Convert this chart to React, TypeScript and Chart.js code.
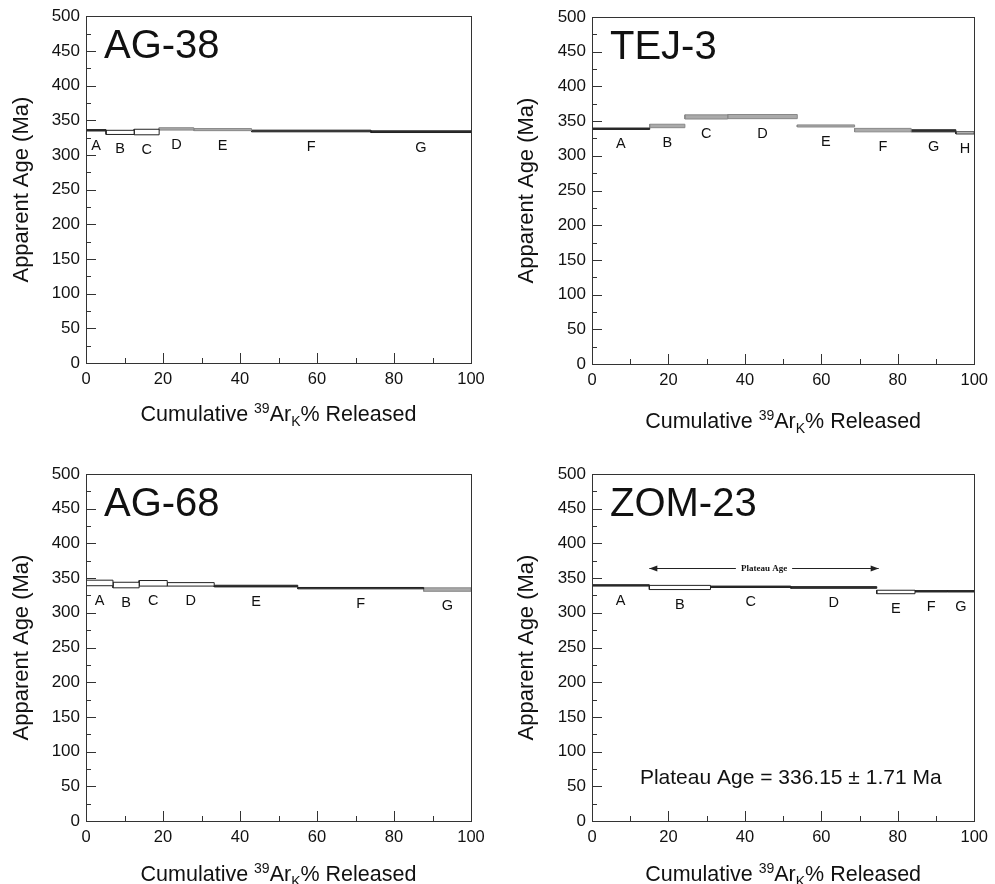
import React, { useEffect, useRef } from "react";
import { Chart, registerables } from "chart.js";

Chart.register(...registerables);

const FONT = '"Liberation Sans", Arial, Helvetica, sans-serif';

// ---------- data ----------
const Y_MIN = 0;
const Y_MAX = 500;
const Y_STEP = 50;
const X_MIN = 0;
const X_MAX = 100;
const X_STEP = 20;

// AG-38
const AG38_BOUNDS = [0, 5.2, 12.5, 19, 28, 43, 74, 100];
const AG38_AGES = [335.5, 332.5, 333, 337.5, 336.5, 334.5, 333.5];
const AG38_ERRS = [1, 3, 4, 1.7, 1.5, 1.2, 1.2];
const AG38_LABELS = ["A", "B", "C", "D", "E", "F", "G"];

// TEJ-3
const TEJ3_BOUNDS = [0, 15.1, 24.3, 35.5, 53.7, 68.7, 83.5, 95.2, 100];
const TEJ3_AGES = [339, 343, 356, 356.5, 343, 337, 336, 333];
const TEJ3_ERRS = [1, 2.5, 3, 3, 1.5, 2.5, 1.5, 1.5];
const TEJ3_LABELS = ["A", "B", "C", "D", "E", "F", "G", "H"];

// AG-68
const AG68_BOUNDS = [0, 7, 13.8, 21.1, 33.3, 55, 87.7, 100];
const AG68_AGES = [343, 340, 342.5, 341, 338.5, 335.5, 333.5];
const AG68_ERRS = [4, 4, 4, 2.5, 1.2, 1, 2.5];
const AG68_LABELS = ["A", "B", "C", "D", "E", "F", "G"];

// ZOM-23
const ZOM23_BOUNDS = [0, 15, 31, 52, 74.5, 84.5, 93, 100];
const ZOM23_AGES = [339.5, 336.5, 337.5, 336.5, 330, 331, 331];
const ZOM23_ERRS = [1, 3, 1, 1.2, 2.5, 1, 1];
const ZOM23_LABELS = ["A", "B", "C", "D", "E", "F", "G"];

const ZOM23_PLATEAU_FROM = 15;
const ZOM23_PLATEAU_TO = 75;
const ZOM23_PLATEAU_Y = 365;
const ZOM23_PLATEAU_TEXT = "Plateau Age = 336.15 \u00b1 1.71 Ma";

// ---------- styles ----------
const STYLE: Record<string, { fill: string; stroke: string }> = {
  dark: { fill: "#333333", stroke: "#222222" },
  gray: { fill: "#aaaaaa", stroke: "#888888" },
  white: { fill: "#ffffff", stroke: "#222222" },
};
const AG38_FILLS = ["dark", "white", "white", "gray", "gray", "dark", "dark"];
const TEJ3_FILLS = ["dark", "gray", "gray", "gray", "gray", "gray", "dark", "white"];
const AG68_FILLS = ["white", "white", "white", "white", "dark", "dark", "gray"];
const ZOM23_FILLS = ["dark", "white", "dark", "dark", "white", "dark", "dark"];

type Panel = {
  title: string;
  bounds: number[];
  ages: number[];
  errs: number[];
  labels: string[];
  fills: string[];
  left: number;
  top: number;
  w: number;
  h: number;
  plot: { l: number; t: number; r: number; b: number };
  yTitleX: number;
  xTitleDy: number;
  plateau?: boolean;
};

const PANELS: Panel[] = [
  {
    title: "AG-38", bounds: AG38_BOUNDS, ages: AG38_AGES, errs: AG38_ERRS, labels: AG38_LABELS, fills: AG38_FILLS,
    left: 0, top: 0, w: 497, h: 440, plot: { l: 86, t: 16, r: 471, b: 363 }, yTitleX: 22, xTitleDy: 50,
  },
  {
    title: "TEJ-3", bounds: TEJ3_BOUNDS, ages: TEJ3_AGES, errs: TEJ3_ERRS, labels: TEJ3_LABELS, fills: TEJ3_FILLS,
    left: 497, top: 0, w: 498, h: 440, plot: { l: 95, t: 17, r: 478, b: 364 }, yTitleX: 30, xTitleDy: 56,
  },
  {
    title: "AG-68", bounds: AG68_BOUNDS, ages: AG68_AGES, errs: AG68_ERRS, labels: AG68_LABELS, fills: AG68_FILLS,
    left: 0, top: 440, w: 497, h: 444, plot: { l: 86, t: 34, r: 471, b: 381 }, yTitleX: 22, xTitleDy: 52,
  },
  {
    title: "ZOM-23", bounds: ZOM23_BOUNDS, ages: ZOM23_AGES, errs: ZOM23_ERRS, labels: ZOM23_LABELS, fills: ZOM23_FILLS,
    left: 497, top: 440, w: 498, h: 444, plot: { l: 95, t: 34, r: 478, b: 381 }, yTitleX: 30, xTitleDy: 52, plateau: true,
  },
];

function stepDatasets(p: Panel) {
  return p.ages.map((a, i) => {
    const x0 = p.bounds[i];
    const x1 = p.bounds[i + 1];
    const lo = a - p.errs[i];
    const hi = a + p.errs[i];
    const st = STYLE[p.fills[i]];
    return {
      label: p.labels[i],
      data: [
        { x: x0, y: lo },
        { x: x1, y: lo },
        { x: x1, y: hi },
        { x: x0, y: hi },
        { x: x0, y: lo },
      ],
      showLine: true,
      fill: "shape",
      backgroundColor: st.fill,
      borderColor: st.stroke,
      borderWidth: 1,
      pointRadius: 0,
      pointHoverRadius: 0,
      tension: 0,
    };
  });
}

function drawXTitle(ctx: CanvasRenderingContext2D, cx: number, cy: number) {
  const big = `21.5px ${FONT}`;
  const small = `14px ${FONT}`;
  const parts: [string, string, number][] = [
    ["Cumulative ", big, 0],
    ["39", small, -8],
    ["Ar", big, 0],
    ["K", small, 5],
    ["% Released", big, 0],
  ];
  let total = 0;
  const widths = parts.map(([t, f]) => {
    ctx.font = f;
    const w = ctx.measureText(t).width;
    total += w;
    return w;
  });
  let x = cx - total / 2;
  ctx.fillStyle = "#111";
  ctx.textAlign = "left";
  ctx.textBaseline = "alphabetic";
  parts.forEach(([t, f, dy], i) => {
    ctx.font = f;
    ctx.fillText(t, x, cy + 8 + dy);
    x += widths[i];
  });
}

function makeDecor(p: Panel) {
  return {
    id: "decor",
    afterDraw(chart: any) {
      const ctx: CanvasRenderingContext2D = chart.ctx;
      const a = chart.chartArea;
      const xs = chart.scales.x;
      const ys = chart.scales.y;
      ctx.save();
      // frame
      ctx.strokeStyle = "#333";
      ctx.lineWidth = 1;
      ctx.strokeRect(Math.round(a.left) + 0.5, Math.round(a.top) + 0.5, Math.round(a.right - a.left), Math.round(a.bottom - a.top));
      // inward ticks
      ctx.beginPath();
      for (let v = Y_MIN; v <= Y_MAX; v += Y_STEP / 2) {
        const py = Math.round(ys.getPixelForValue(v)) + 0.5;
        const len = v % Y_STEP === 0 ? 10 : 5;
        ctx.moveTo(a.left, py);
        ctx.lineTo(a.left + len, py);
      }
      for (let v = X_MIN; v <= X_MAX; v += X_STEP / 2) {
        const px = Math.round(xs.getPixelForValue(v)) + 0.5;
        const len = v % X_STEP === 0 ? 10 : 5;
        ctx.moveTo(px, a.bottom);
        ctx.lineTo(px, a.bottom - len);
      }
      ctx.stroke();
      // step labels
      ctx.fillStyle = "#111";
      ctx.font = `14.5px ${FONT}`;
      ctx.textAlign = "center";
      ctx.textBaseline = "middle";
      p.labels.forEach((lab, i) => {
        const cx = xs.getPixelForValue((p.bounds[i] + p.bounds[i + 1]) / 2);
        const by = ys.getPixelForValue(p.ages[i] - p.errs[i]);
        ctx.fillText(lab, cx, by + 15);
      });
      // sample title
      ctx.font = `40px ${FONT}`;
      ctx.textAlign = "left";
      ctx.textBaseline = "alphabetic";
      ctx.fillText(p.title, a.left + 18, a.top + 42);
      // y title
      ctx.save();
      ctx.translate(p.yTitleX, (a.top + a.bottom) / 2);
      ctx.rotate(-Math.PI / 2);
      ctx.font = `22px ${FONT}`;
      ctx.textAlign = "center";
      ctx.textBaseline = "middle";
      ctx.fillText("Apparent Age (Ma)", 0, 0);
      ctx.restore();
      // x title
      drawXTitle(ctx, (a.left + a.right) / 2, a.bottom + p.xTitleDy);
      // plateau extras
      if (p.plateau) {
        const x0 = xs.getPixelForValue(ZOM23_PLATEAU_FROM);
        const x1 = xs.getPixelForValue(ZOM23_PLATEAU_TO);
        const py = Math.round(ys.getPixelForValue(ZOM23_PLATEAU_Y)) + 0.5;
        ctx.strokeStyle = "#222";
        ctx.lineWidth = 1;
        ctx.beginPath();
        ctx.moveTo(x0, py);
        ctx.lineTo(x1, py);
        ctx.stroke();
        ctx.fillStyle = "#222";
        ctx.beginPath();
        ctx.moveTo(x0, py);
        ctx.lineTo(x0 + 8, py - 3);
        ctx.lineTo(x0 + 8, py + 3);
        ctx.closePath();
        ctx.moveTo(x1, py);
        ctx.lineTo(x1 - 8, py - 3);
        ctx.lineTo(x1 - 8, py + 3);
        ctx.closePath();
        ctx.fill();
        const mid = (x0 + x1) / 2;
        ctx.font = `bold 9px "Liberation Serif", "DejaVu Serif", serif`;
        const tw = ctx.measureText("Plateau Age").width;
        ctx.fillStyle = "#fff";
        ctx.fillRect(mid - tw / 2 - 5, py - 6, tw + 10, 12);
        ctx.fillStyle = "#111";
        ctx.textAlign = "center";
        ctx.textBaseline = "middle";
        ctx.fillText("Plateau Age", mid, py);
        ctx.font = `21px ${FONT}`;
        ctx.fillText(ZOM23_PLATEAU_TEXT, xs.getPixelForValue(52), ys.getPixelForValue(62));
      }
      ctx.restore();
    },
  };
}

function PanelChart({ p }: { p: Panel }) {
  const ref = useRef<HTMLCanvasElement | null>(null);
  useEffect(() => {
    if (!ref.current) return;
    const chart = new Chart(ref.current, {
      type: "scatter",
      data: { datasets: stepDatasets(p) as any },
      options: {
        responsive: false,
        animation: false,
        devicePixelRatio: 1,
        events: [],
        layout: { padding: { left: 0, top: p.plot.t, right: p.w - p.plot.r, bottom: 0 } },
        plugins: { legend: { display: false }, tooltip: { enabled: false } },
        scales: {
          x: {
            type: "linear",
            min: X_MIN,
            max: X_MAX,
            ticks: { stepSize: X_STEP, color: "#111", font: { family: FONT, size: 16.5 }, padding: 7, maxRotation: 0, autoSkip: false },
            grid: { display: false, drawTicks: false, tickLength: 0 },
            border: { display: false },
            afterFit: (s: any) => {
              s.height = p.h - p.plot.b;
            },
          },
          y: {
            type: "linear",
            min: Y_MIN,
            max: Y_MAX,
            ticks: { stepSize: Y_STEP, color: "#111", font: { family: FONT, size: 17 }, padding: 6 },
            grid: { display: false, drawTicks: false, tickLength: 0 },
            border: { display: false },
            afterFit: (s: any) => {
              s.width = p.plot.l;
            },
          },
        },
      } as any,
      plugins: [makeDecor(p)],
    });
    return () => chart.destroy();
  }, [p]);
  return (
    <canvas
      ref={ref}
      width={p.w}
      height={p.h}
      style={{ position: "absolute", left: p.left, top: p.top, width: p.w, height: p.h, display: "block" }}
    />
  );
}

export default function App() {
  return (
    <div style={{ position: "absolute", left: 0, top: 0, width: 995, height: 884, background: "#fff", overflow: "hidden" }}>
      {PANELS.map((p) => (
        <PanelChart key={p.title} p={p} />
      ))}
    </div>
  );
}
